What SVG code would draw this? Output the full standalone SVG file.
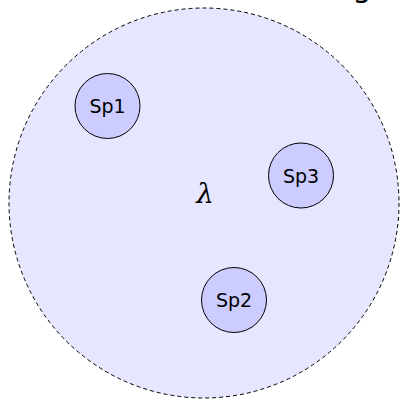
<svg xmlns="http://www.w3.org/2000/svg" width="400" height="399" viewBox="0 0 400 399">
<style>
.region{fill:#e6e6ff;stroke:#000;stroke-width:1;stroke-dasharray:4 3}
.sp{fill:#ccccff;stroke:#000;stroke-width:1}
.lbl{font-family:"DejaVu Sans",sans-serif;font-size:19px;text-anchor:middle;fill:#000}
.lam{font-family:"DejaVu Serif","Liberation Serif",serif;font-style:italic;font-size:28px;text-anchor:middle;fill:#000}
</style>
<rect width="400" height="399" fill="#fff"/>
<text x="362" y="-3" style="font-family:'DejaVu Sans',sans-serif;font-size:30px;text-anchor:middle">g</text>
<g id="region">
<circle class="region" cx="204" cy="203" r="195"/>
<text class="lam" x="205" y="203">λ</text>
</g>
<g id="connectors"></g>
<g id="sp1">
<circle class="sp" cx="107.5" cy="106" r="32.5"/>
<text class="lbl" x="107.5" y="113">Sp1</text>
</g>
<g id="sp3">
<circle class="sp" cx="301" cy="175.5" r="32.5"/>
<text class="lbl" x="301" y="182.5">Sp3</text>
</g>
<g id="sp2">
<circle class="sp" cx="234" cy="300" r="32.5"/>
<text class="lbl" x="234" y="307">Sp2</text>
</g>
</svg>
